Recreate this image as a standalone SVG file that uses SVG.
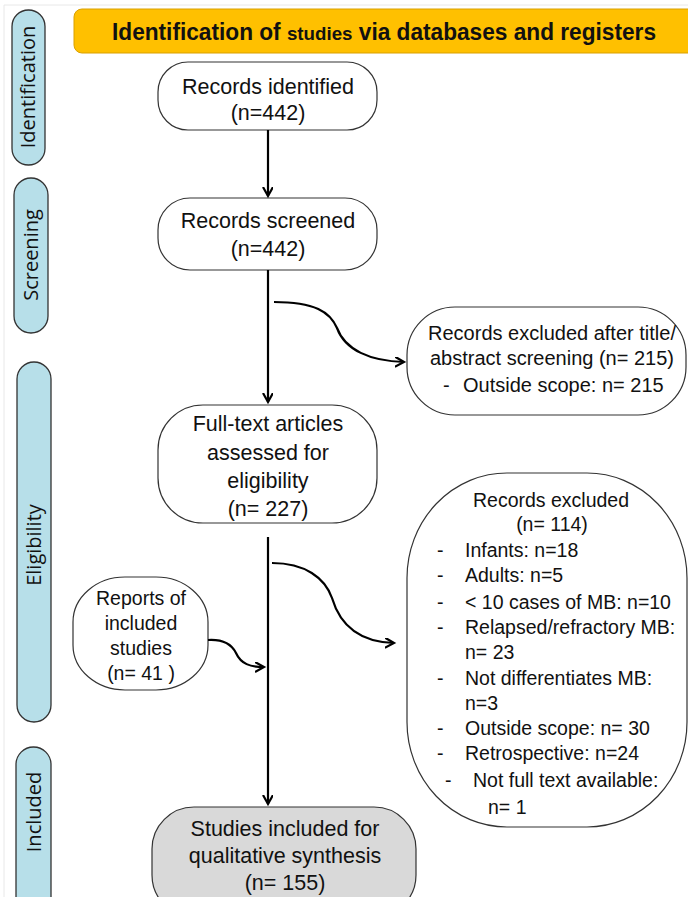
<svg xmlns="http://www.w3.org/2000/svg" width="688" height="897" viewBox="0 0 688 897">
<style>
.bg{fill:#ffffff}
.pill{fill:#b7dfe9;stroke:#333;stroke-width:1.3}
.pillt{font-family:"Open Sans","Noto Sans",sans-serif;font-size:20px;fill:#111;text-anchor:middle}
.hdr{fill:#ffc000;stroke:#d9a000;stroke-width:1}
.hdrt{font-family:"Liberation Sans",Arial,sans-serif;font-weight:bold;font-size:23px;fill:#111}
.box{fill:#ffffff;stroke:#333;stroke-width:1.2}
.gbox{fill:#d9d9d9;stroke:#333;stroke-width:1.2}
.t{font-family:"Liberation Sans",Arial,sans-serif;font-size:21.5px;fill:#111;text-anchor:middle}
.s{font-family:"Liberation Sans",Arial,sans-serif;font-size:19.5px;fill:#111}
.m{font-family:"Liberation Sans",Arial,sans-serif;font-size:20px;fill:#111}
.c{text-anchor:middle}
.ln{fill:none;stroke:#000;stroke-width:2.2}
</style>
<defs>
<marker id="ah" markerUnits="userSpaceOnUse" markerWidth="14" markerHeight="14" refX="9" refY="5" orient="auto">
<path d="M0,0 L9,5 L0,10" fill="none" stroke="#000" stroke-width="2.2"/>
</marker>
</defs>
<rect class="bg" x="0" y="0" width="688" height="897"/>
<path d="M4,897 L4,5 L688,5" fill="none" stroke="#e8e8e8" stroke-width="1"/>

<g id="lane-identification">
<rect class="pill" x="12" y="10" width="33" height="155" rx="16.5"/>
<text class="pillt" transform="translate(35,87) rotate(-90)">Identification</text>
</g>
<g id="lane-screening">
<rect class="pill" x="14" y="178" width="34" height="155" rx="17"/>
<text class="pillt" transform="translate(38,255) rotate(-90)">Screening</text>
</g>
<g id="lane-eligibility">
<rect class="pill" x="17" y="362" width="34" height="360" rx="17"/>
<text class="pillt" transform="translate(41,545) rotate(-90)">Eligibility</text>
</g>
<g id="lane-included">
<rect class="pill" x="16" y="747" width="35" height="170" rx="17.5"/>
<text class="pillt" transform="translate(41,812) rotate(-90)">Included</text>
</g>

<g id="header">
<rect class="hdr" x="74" y="9" width="630" height="44" rx="8"/>
<text class="hdrt" x="112" y="40" textLength="544" lengthAdjust="spacingAndGlyphs">Identification of <tspan font-size="19px">studies</tspan> via databases and registers</text>
</g>

<g id="records-identified">
<rect class="box" x="158" y="62" width="219" height="68" rx="30"/>
<text class="t" x="268" y="94">Records identified</text>
<text class="t" x="268" y="120">(n=442)</text>
</g>

<g id="records-screened">
<rect class="box" x="158" y="198" width="219" height="72" rx="32"/>
<text class="t" x="268" y="228">Records screened</text>
<text class="t" x="268" y="256">(n=442)</text>
</g>

<g id="excluded-title-abstract">
<rect class="box" x="407" y="307" width="279" height="108" rx="48"/>
<text class="m c" x="552" y="340">Records excluded after title/</text>
<text class="m c" x="552" y="365">abstract screening (n= 215)</text>
<text class="m" x="443" y="392">-</text>
<text class="m" x="463" y="392">Outside scope: n= 215</text>
</g>

<g id="full-text">
<rect class="box" x="158" y="405" width="219" height="118" rx="45"/>
<text class="t" x="268" y="431">Full-text articles</text>
<text class="t" x="268" y="460">assessed for</text>
<text class="t" x="268" y="488">eligibility</text>
<text class="t" x="268" y="516">(n= 227)</text>
</g>

<g id="records-excluded">
<rect class="box" x="407" y="473" width="280" height="354" rx="100" ry="105"/>
<text class="s c" x="551" y="507">Records excluded</text>
<text class="s c" x="552" y="531">(n= 114)</text>
<text class="s" x="437" y="557">-</text><text class="s" x="465" y="557">Infants: n=18</text>
<text class="s" x="437" y="582">-</text><text class="s" x="465" y="582">Adults: n=5</text>
<text class="s" x="437" y="609">-</text><text class="s" x="465" y="609">&lt; 10 cases of MB: n=10</text>
<text class="s" x="437" y="634">-</text><text class="s" x="465" y="634">Relapsed/refractory MB:</text>
<text class="s" x="465" y="659">n= 23</text>
<text class="s" x="437" y="685">-</text><text class="s" x="465" y="685">Not differentiates MB:</text>
<text class="s" x="465" y="710">n=3</text>
<text class="s" x="437" y="735">-</text><text class="s" x="465" y="735">Outside scope: n= 30</text>
<text class="s" x="437" y="760">-</text><text class="s" x="465" y="760">Retrospective: n=24</text>
<text class="s" x="445" y="787">-</text><text class="s" x="473" y="787">Not full text available:</text>
<text class="s" x="488" y="814">n= 1</text>
</g>

<g id="reports-included">
<rect class="box" x="73" y="577" width="135" height="113" rx="52" ry="45"/>
<text class="s c" x="141" y="605">Reports of</text>
<text class="s c" x="141" y="630">included</text>
<text class="s c" x="141" y="655">studies</text>
<text class="s c" x="141" y="680">(n= 41 )</text>
</g>

<g id="studies-included">
<rect class="gbox" x="152" y="807" width="264" height="110" rx="42"/>
<text class="t" x="285" y="836">Studies included for</text>
<text class="t" x="285" y="863">qualitative synthesis</text>
<text class="t" x="285" y="890">(n= 155)</text>
</g>

<g id="connectors">
<path class="ln" d="M268,130 L268,196" marker-end="url(#ah)"/>
<path class="ln" d="M268,270 L268,402" marker-end="url(#ah)"/>
<path class="ln" d="M274,302 C315,302 330,312 337,328 C345,350 370,361 404,362" marker-end="url(#ah)"/>
<path class="ln" d="M268,537 L268,804" marker-end="url(#ah)"/>
<path class="ln" d="M272,563 C305,563 325,578 332,598 C340,625 360,642 394,643" marker-end="url(#ah)"/>
<path class="ln" d="M208,640 C225,639 232,645 236,653 C241,664 250,667 264,667" marker-end="url(#ah)"/>
</g>
</svg>
